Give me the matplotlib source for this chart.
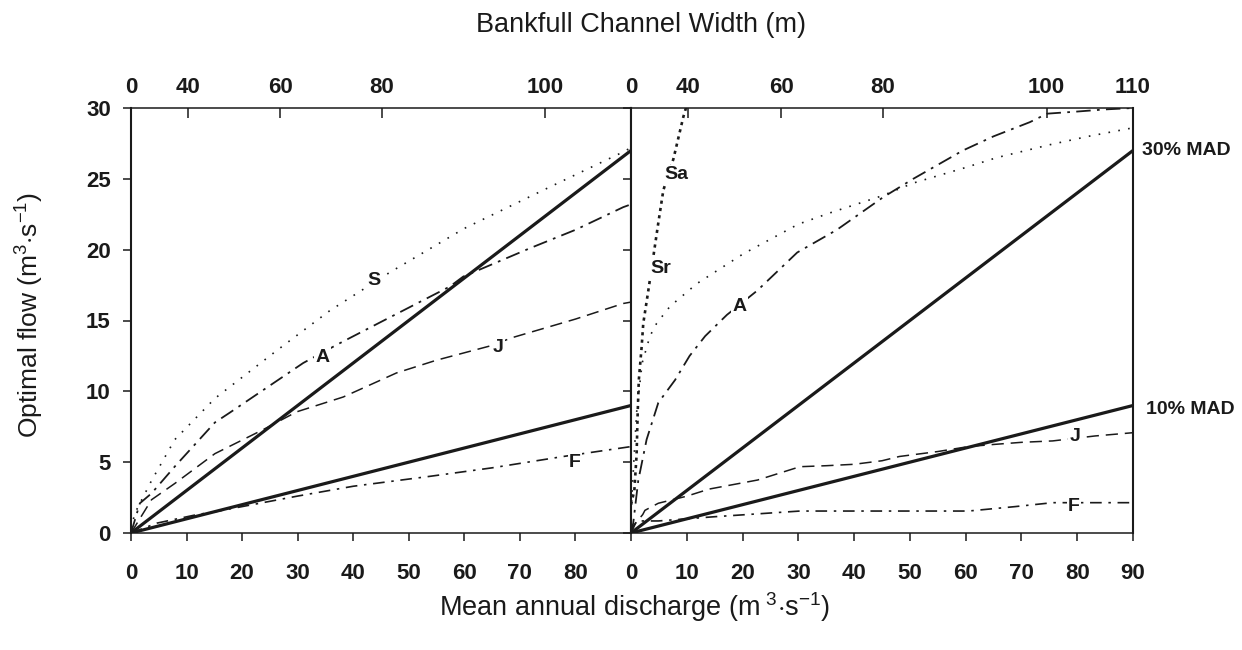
import matplotlib
matplotlib.use("Agg")
import matplotlib.pyplot as plt

plt.rcParams['font.family'] = ['Liberation Sans', 'DejaVu Sans']
plt.rcParams['mathtext.fontset'] = 'custom'
plt.rcParams['mathtext.rm'] = 'Liberation Sans'
plt.rcParams['mathtext.it'] = 'Liberation Sans'

# ---------------- data ----------------
# Mean annual discharge axis
mad_ticks_left = [0, 10, 20, 30, 40, 50, 60, 70, 80]
mad_ticks_right = [0, 10, 20, 30, 40, 50, 60, 70, 80, 90]
y_ticks = [0, 5, 10, 15, 20, 25, 30]

# Bankfull channel width (top axis) labels and the discharge they correspond to
width_labels_left = ['0', '40', '60', '80', '100', '']
width_labels_right = ['0', '40', '60', '80', '100', '110']
width_positions = [0, 10.2, 26.9, 45.2, 74.5, 90]

# MAD reference lines
mad_x = [0, 90]
mad30_y = [0, 27]
mad10_y = [0, 9]

# Left panel curves
S_left_x = [0, 0.7, 3.7, 7.9, 15.1, 26.3, 35.8, 46.6, 60, 74.2, 88.6, 90]
S_left_y = [0.3, 1.4, 3.7, 6.6, 9.5, 12.9, 15.7, 18.4, 21.5, 24.2, 26.9, 27.2]

A_left_x = [0, 1.6, 3.7, 7.9, 15.1, 17.8, 31, 37.1, 45, 57.4, 59.8, 71.8, 80, 88.6, 90]
A_left_y = [0, 2.1, 2.8, 4.7, 7.8, 8.5, 12.0, 13.3, 14.9, 17.4, 18.1, 20.1, 21.4, 23.0, 23.2]

J_left_x = [0, 3.7, 7.9, 15.1, 23.8, 29.8, 38.2, 47.8, 55, 64.6, 68.7, 80, 88.6, 90]
J_left_y = [0, 2.35, 3.5, 5.6, 7.3, 8.55, 9.6, 11.3, 12.2, 13.2, 13.8, 15.1, 16.2, 16.3]

F_left_x = [0, 4.7, 11.9, 15.1, 29.9, 40, 53.8, 65, 77.8, 90]
F_left_y = [0, 0.7, 1.3, 1.5, 2.6, 3.3, 4.0, 4.6, 5.4, 6.1]

# Right panel curves
Sa_x = [0, 0.6, 1.0, 1.2, 1.4, 1.9, 2.2, 3.1, 4.0, 4.9, 5.8, 7.6, 9.4, 10.0]
Sa_y = [2.0, 3.0, 5.5, 8.5, 10.8, 13.1, 14.8, 17.1, 19.5, 21.9, 24.2, 26.4, 29.4, 30.2]

Sr_x = [0, 0.5, 1.0, 2.0, 3.4, 4.6, 7.0, 11.8, 20.1, 30, 35.7, 45, 50.6, 60, 65.6, 75, 82, 90]
Sr_y = [1.5, 5.0, 8.5, 12.0, 13.9, 14.8, 16.0, 17.6, 19.7, 21.8, 22.6, 23.8, 24.7, 25.8, 26.5, 27.4, 28.0, 28.6]

A_right_x = [0, 0.4, 1.3, 2.8, 4.9, 7.9, 10.5, 13.3, 17.2, 22.6, 29.8, 36.9, 45.2, 50.6,
             59.5, 65, 71.5, 74.6, 80, 85, 90]
A_right_y = [0, 0.7, 3.7, 6.6, 9.2, 10.8, 12.5, 13.9, 15.4, 17.1, 19.8, 21.4, 23.7, 25.0,
             27.0, 28.0, 29.0, 29.6, 29.75, 29.9, 30.0]

J_right_x = [0, 0.3, 2.1, 2.5, 4.9, 10, 14, 22.7, 30.3, 35, 40, 45, 48.1, 55, 60.5, 65, 70, 75.6, 83.2, 90]
J_right_y = [0, 0.45, 1.3, 1.6, 2.1, 2.6, 3.1, 3.74, 4.68, 4.75, 4.85, 5.1, 5.4, 5.75, 6.1, 6.25, 6.4, 6.5, 6.85, 7.08]

F_right_x = [0, 1, 4.9, 15, 30.3, 41.3, 60.5, 68.8, 75.6, 82.5, 90]
F_right_y = [0, 0.85, 0.85, 1.15, 1.55, 1.55, 1.55, 1.86, 2.14, 2.14, 2.14]

# ---------------- styles ----------------
INK = '#1a1a1a'
SOLID = dict(color=INK, lw=2.3, ls='-', solid_capstyle='butt')
DOT = dict(color=INK, lw=1.2, ls=(0, (1, 5)))
DENSE = dict(color=INK, lw=1.9, ls=(0, (1.2, 1.6)))
DASHDOT = dict(color=INK, lw=1.3, ls=(0, (8, 3.5, 1.5, 3.5)))
DASH = dict(color=INK, lw=1.1, ls=(0, (8, 4.5)))
DASHDOT2 = dict(color=INK, lw=1.2, ls=(0, (7, 4, 1.5, 4)))

W, H = 1242, 650
fig = plt.figure(figsize=(W / 100, H / 100), dpi=100)
ax1 = fig.add_axes([131 / W, 1 - 533 / H, 500 / W, 425 / H])
ax2 = fig.add_axes([631 / W, 1 - 533 / H, 502 / W, 425 / H])

TICK_FS = 16
tick_font = dict(fontsize=TICK_FS, fontweight='bold', color=INK)
lab_font = dict(fontsize=14, fontweight='bold', color=INK)
bbox = dict(facecolor='white', edgecolor='none', pad=1.0)

for ax in (ax1, ax2):
    ax.plot(mad_x, mad30_y, **SOLID)
    ax.plot(mad_x, mad10_y, **SOLID)
    ax.set_xlim(0, 90)
    ax.set_ylim(0, 30)
    ax.set_yticks(y_ticks)
    for sp in ('left', 'right'):
        ax.spines[sp].set_linewidth(1.5)
        ax.spines[sp].set_color(INK)
    for sp in ('top', 'bottom'):
        ax.spines[sp].set_linewidth(1.1)
        ax.spines[sp].set_color(INK)
    ax.tick_params(axis='x', direction='out', length=5.5, width=1.1, pad=16, colors=INK)
    ax.tick_params(axis='y', direction='out', length=5.5, width=1.1, pad=9, colors=INK)

# left panel curves
ax1.plot(S_left_x, S_left_y, **DOT)
ax1.plot(A_left_x, A_left_y, **DASHDOT)
ax1.plot(J_left_x, J_left_y, **DASH)
ax1.plot(F_left_x, F_left_y, **DASHDOT2)
ax1.set_xticks(mad_ticks_left)
ax1.set_xticklabels([str(v) for v in mad_ticks_left], **tick_font)
ax1.set_yticklabels([str(v) for v in y_ticks], **tick_font)

ax1.text(43.7, 17.8, 'S', ha='center', va='center', bbox=bbox, **lab_font)
ax1.text(34.4, 12.4, 'A', ha='center', va='center', bbox=bbox, **lab_font)
ax1.text(66.1, 13.1, 'J', ha='center', va='center', bbox=bbox, **lab_font)
ax1.text(79.9, 5.0, 'F', ha='center', va='center', bbox=bbox, **lab_font)

# right panel curves
ax2.plot(Sa_x, Sa_y, **DENSE)
ax2.plot(Sr_x, Sr_y, **DOT)
ax2.plot(A_right_x, A_right_y, **DASHDOT)
ax2.plot(J_right_x, J_right_y, **DASH)
ax2.plot(F_right_x, F_right_y, **DASHDOT2)
ax2.set_xticks(mad_ticks_right)
ax2.set_xticklabels([str(v) for v in mad_ticks_right], **tick_font)
ax2.tick_params(axis='y', labelleft=False)

ax2.text(8.2, 25.3, 'Sa', ha='center', va='center', bbox=bbox, **lab_font)
ax2.text(5.4, 18.7, 'Sr', ha='center', va='center', bbox=bbox, **lab_font)
ax2.text(19.5, 16.0, 'A', ha='center', va='center', bbox=bbox, **lab_font)
ax2.text(79.6, 6.8, 'J', ha='center', va='center', bbox=bbox, **lab_font)
ax2.text(79.4, 1.85, 'F', ha='center', va='center', bbox=bbox, **lab_font)
ax2.text(91.7, 27.0, '30% MAD', ha='left', va='center', clip_on=False, **lab_font)
ax2.text(92.3, 8.7, '10% MAD', ha='left', va='center', clip_on=False, **lab_font)

# top (channel width) axes
for ax, labels in ((ax1, width_labels_left), (ax2, width_labels_right)):
    top = ax.twiny()
    top.set_xlim(0, 90)
    top.set_xticks(width_positions)
    top.set_xticklabels(labels, **tick_font)
    top.tick_params(axis='x', direction='in', length=7, width=1.1, pad=7, colors=INK)
    for sp in top.spines.values():
        sp.set_visible(False)

fig.text(641 / W, 1 - 25 / H, 'Bankfull Channel Width (m)', ha='center', va='center',
         fontsize=19.5, color=INK)
fig.text(635 / W, 1 - 607 / H, r'Mean annual discharge (m$^{\ 3}$$\cdot$s$^{-1}$)',
         ha='center', va='center', fontsize=19.5, color=INK)
fig.text(30 / W, 1 - 315 / H, r'Optimal flow (m$^{3}$$\cdot$s$^{-1}$)',
         ha='center', va='center', rotation=90, fontsize=19, color=INK)

fig.savefig('out.png', dpi=100)
